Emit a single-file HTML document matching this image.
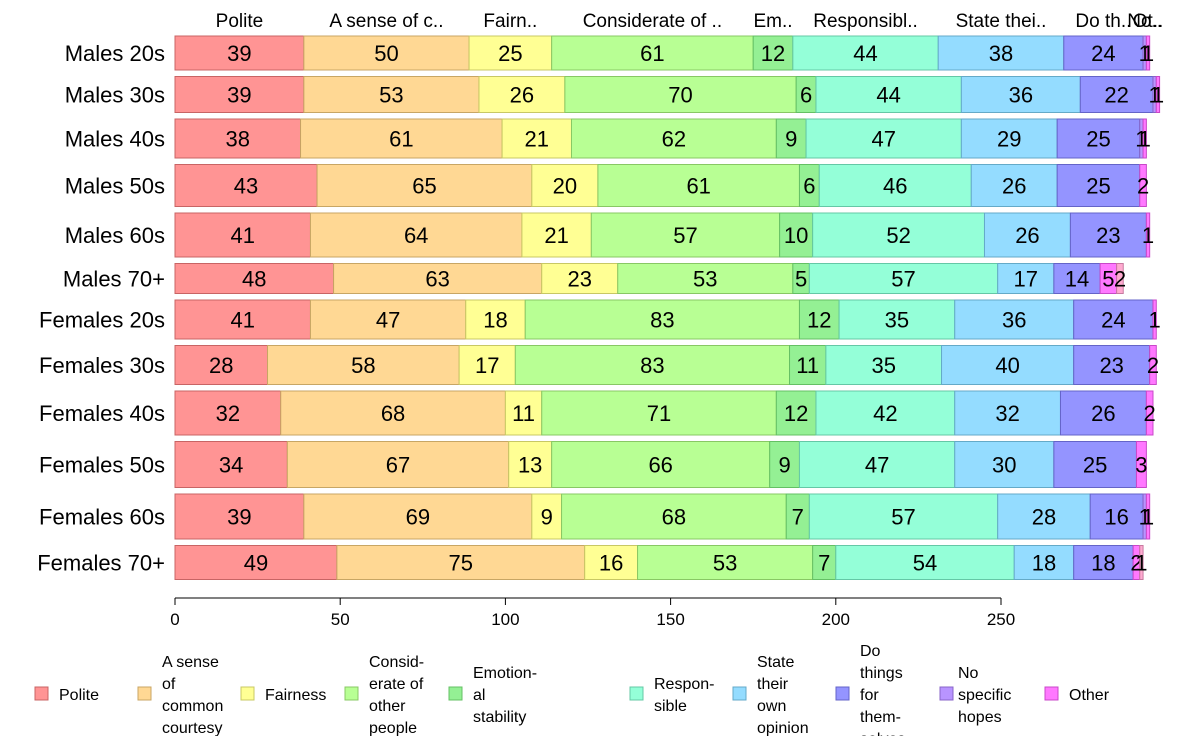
<!DOCTYPE html>
<html><head><meta charset="utf-8"><style>
body{margin:0;background:#fff;font-family:"Liberation Sans",Arial,sans-serif}
svg text{font-family:"Liberation Sans",Arial,sans-serif}
</style></head><body>
<svg id="c" width="1188" height="736"></svg>
<script>
const rows=["Males 20s","Males 30s","Males 40s","Males 50s","Males 60s","Males 70+","Females 20s","Females 30s","Females 40s","Females 50s","Females 60s","Females 70+"];
const rowWeights=[34,36,39,42,44,30,39,39,44,46,45,34];
const series=["Polite","A sense of common courtesy","Fairness","Considerate of other people","Emotional stability","Responsible","State their own opinion","Do things for themselves","No specific hopes","Other","Unknown"];
const headerLabels=["Polite","A sense of c..","Fairn..","Considerate of ..","Em..","Responsibl..","State thei..","Do th..","No..","Ot..",""];
const legendLabels=[["Polite"],["A sense","of","common","courtesy"],["Fairness"],["Consid-","erate of","other","people"],["Emotion-","al","stability"],["Respon-","sible"],["State","their","own","opinion"],["Do","things","for","them-","selves"],["No","specific","hopes"],["Other"]];
const values=[
[39,50,25,61,12,44,38,24,1,1,0],
[39,53,26,70,6,44,36,22,1,1,0],
[38,61,21,62,9,47,29,25,1,1,0],
[43,65,20,61,6,46,26,25,0,2,0],
[41,64,21,57,10,52,26,23,0,1,0],
[48,63,23,53,5,57,17,14,0,5,2],
[41,47,18,83,12,35,36,24,0,1,0],
[28,58,17,83,11,35,40,23,0,2,0],
[32,68,11,71,12,42,32,26,0,2,0],
[34,67,13,66,9,47,30,25,0,3,0],
[39,69,9,68,7,57,28,16,1,1,0],
[49,75,16,53,7,54,18,18,0,2,1]];
const xTicks=[0,50,100,150,200,250];
const fills=["#ff9494","#ffd894","#ffff94","#b8ff94","#94f094","#94ffd8","#94dcff","#9494ff","#b894ff","#ff78ff","#ffaad0"];
const strokes=["#c86464","#c8a664","#c8c864","#88c864","#64c064","#64c8a6","#64aac8","#6464c8","#8864c8","#c848c8","#c87aa0"];
const svg=document.getElementById('c');const NS="http://www.w3.org/2000/svg";
function mk(t,a,p){const e=document.createElementNS(NS,t);for(const k in a)e.setAttribute(k,a[k]);(p||svg).appendChild(e);return e;}
const x0=175,xs=826/250;const X=v=>x0+v*xs;
const gap=6.5;let y=36;const tops=[];
rowWeights.forEach(h=>{tops.push(y);y+=h+gap;});
rows.forEach((r,i)=>{
 const g=mk('g',{});
 
 
 const h=rowWeights[i],t=tops[i];
 const lb=mk('text',{x:165,y:t+h/2+8,'text-anchor':'end','font-size':22,fill:'#000'},g);lb.textContent=r;
 
 let cum=0;
 values[i].forEach((v,j)=>{
  if(v>0){
   const rc=mk('rect',{x:X(cum),y:t,width:v*xs,height:h,fill:fills[j],stroke:strokes[j],'stroke-width':1},g);
   
   const tx=mk('text',{x:X(cum+v/2),y:t+h/2+8,'text-anchor':'middle','font-size':22,fill:'#000'},g);tx.textContent=v;
   
  }
  if(i===0&&headerLabels[j]){
   const hd=mk('text',{x:X(cum+v/2),y:27,'text-anchor':'middle','font-size':19,fill:'#000'});hd.textContent=headerLabels[j];
   
  }
  cum+=v;
 });
});
const ax=mk('g',{});
mk('line',{x1:X(0),x2:X(250),y1:598,y2:598,stroke:'#000'},ax);
xTicks.forEach(v=>{mk('line',{x1:X(v),x2:X(v),y1:598,y2:605,stroke:'#000'},ax);
 const t=mk('text',{x:X(v),y:625,'text-anchor':'middle','font-size':17},ax);t.textContent=v;
 });
const sqX=[35,138,241,345,449,630,733,836,940,1045];
legendLabels.forEach((ls,j)=>{
 const g=mk('g',{});
 mk('rect',{x:sqX[j],y:687,width:13,height:13,fill:fills[j],stroke:strokes[j]},g);
 const n=ls.length,lh=22,start=694-(n-1)*lh/2;
 ls.forEach((s,k)=>{const t=mk('text',{x:sqX[j]+(j===8?18:24),y:start+k*lh+6,'font-size':16},g);t.textContent=s;});
});
</script>
</body></html>
